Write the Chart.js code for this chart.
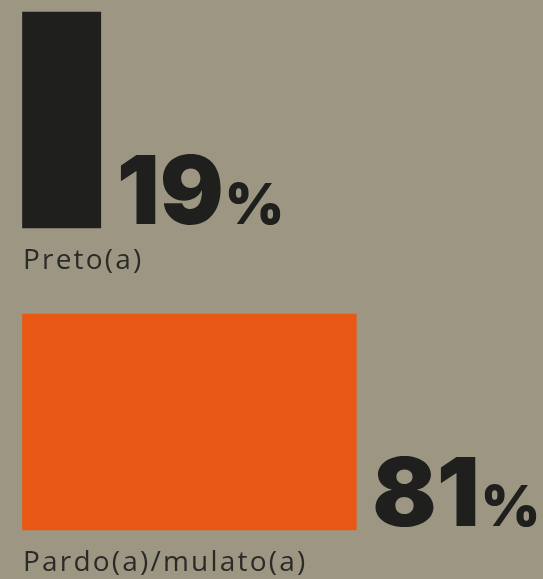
<!DOCTYPE html>
<html>
<head>
<meta charset="utf-8">
<script src="https://cdn.jsdelivr.net/npm/chart.js@4.4.0/dist/chart.umd.min.js"></script>
<style>
  html, body { margin: 0; padding: 0; background: #9c9683; }
  #wrap { width: 543px; height: 579px; position: relative; }
</style>
</head>
<body>
<div id="wrap"><canvas id="chart"></canvas></div>
<script>
(function(){
  // dados
  const categories = ['Preto(a)', 'Pardo(a)/mulato(a)'];
  const values = [19, 81];
  const barColors = ['#1f1f1d', '#e85713'];

  const INK = '#1f1f1d';

  // rótulos + percentuais desenhados ao lado/abaixo de cada barra
  const labelsPlugin = {
    id: 'barLabels',
    afterDatasetsDraw(chart){
      const ctx = chart.ctx;
      const meta = chart.getDatasetMeta(0);
      meta.data.forEach((bar, i) => {
        const p = bar.getProps(['x', 'y', 'base', 'height'], true);
        const bottom = p.y + p.height / 2;
        ctx.save();
        ctx.textBaseline = 'alphabetic';
        ctx.textAlign = 'left';
        // categoria
        ctx.font = '400 28px "Open Sans", sans-serif';
        ctx.letterSpacing = '2.2px';
        ctx.fillStyle = '#2a2a27';
        ctx.fillText(categories[i], p.base + 0.5, bottom + 41);
        ctx.letterSpacing = '0px';
        // valor
        ctx.fillStyle = INK;
        const num = String(values[i]);
        ctx.font = '900 95px Inter, sans-serif';
        const x0 = p.x + 16;
        ctx.fillText(num, x0, bottom - 4);
        const w = ctx.measureText(num).width;
        ctx.font = '900 57px Inter, sans-serif';
        ctx.fillText('%', x0 + w + 1, bottom - 4);
        ctx.restore();
      });
    }
  };

  new Chart(document.getElementById('chart'), {
    type: 'bar',
    data: {
      labels: categories,
      datasets: [{
        data: values,
        backgroundColor: barColors,
        borderWidth: 0,
        barThickness: 216,
        clip: false
      }]
    },
    options: {
      indexAxis: 'y',
      responsive: true,
      maintainAspectRatio: false,
      animation: false,
      layout: { padding: { left: 22.5, right: 108.5, top: 120, bottom: 157 } },
      plugins: { legend: { display: false }, tooltip: { enabled: false } },
      scales: {
        x: { display: false, min: 0, max: 100 },
        y: { display: false, offset: false }
      }
    },
    plugins: [labelsPlugin]
  });
})();
</script>
</body>
</html>
